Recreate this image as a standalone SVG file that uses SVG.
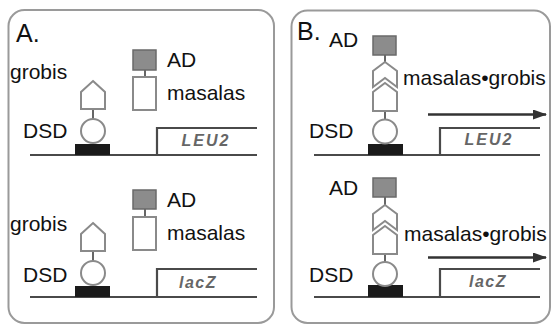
<svg xmlns="http://www.w3.org/2000/svg" width="552" height="327" viewBox="0 0 552 327">
<defs>
<style>
.panel{fill:#fff;stroke:#9a9a9a;stroke-width:2}
.lbl{font-family:"Liberation Sans",Arial,sans-serif;font-size:21px;fill:#111}
.big{font-family:"Liberation Sans",Arial,sans-serif;font-size:25px;fill:#111}
.gene{font-family:"Liberation Sans",Arial,sans-serif;font-size:16px;font-weight:bold;font-style:italic;fill:#666;text-anchor:middle}
.dna{fill:none;stroke:#4a4a4a;stroke-width:2.2}
.prot{fill:#fff;stroke:#8a8a8a;stroke-width:2}
.ad{fill:#8c8c8c;stroke:#6a6a6a;stroke-width:1.5}
.link{stroke:#666;stroke-width:2}
.dsdbox{fill:#1a1a1a}
.arr{stroke:#333;stroke-width:2.5}
</style>
<marker id="ah" markerWidth="14" markerHeight="10" refX="13" refY="5" orient="auto" markerUnits="userSpaceOnUse">
<path d="M0,0 L14,5 L0,10 Z" fill="#333"/>
</marker>
</defs>
<rect width="552" height="327" fill="#fff"/>

<g id="panelA">
<rect class="panel" x="8.5" y="10" width="265.5" height="313" rx="16"/>
<text class="big" x="16" y="42">A.</text>
</g>
<g id="panelB">
<rect class="panel" x="291.5" y="10.5" width="258.5" height="312.5" rx="16"/>
<text class="big" x="297" y="40">B.</text>
</g>

<g id="connectors">
<line class="link" x1="93" y1="109" x2="93" y2="119"/>
<line class="link" x1="145" y1="70" x2="145" y2="77"/>
<line class="link" x1="93" y1="251" x2="93" y2="261"/>
<line class="link" x1="145" y1="209" x2="145" y2="217"/>
<line class="link" x1="385" y1="55" x2="385" y2="62"/>
<line class="link" x1="385" y1="111" x2="385" y2="119"/>
<line class="link" x1="385" y1="197" x2="385" y2="205"/>
<line class="link" x1="385" y1="254" x2="385" y2="262"/>
<line class="arr" x1="428" y1="114.5" x2="546" y2="114.5" marker-end="url(#ah)"/>
<line class="arr" x1="428" y1="257.5" x2="546" y2="257.5" marker-end="url(#ah)"/>
</g>

<g id="A-top-dna">
<line class="dna" x1="30" y1="155" x2="257" y2="155"/>
<path class="dna" d="M157,155 V128 H257"/>
<text class="gene" x="206" y="146" letter-spacing="2">LEU2</text>
</g>
<g id="A-top-dsd">
<rect class="dsdbox" x="75" y="144" width="35" height="11"/>
<circle class="prot" cx="93" cy="131" r="12"/>
<text class="lbl" x="23" y="138">DSD</text>
</g>
<g id="A-top-grobis">
<path class="prot" d="M93,81 L105,92 V109 H81 V92 Z"/>
<text class="lbl" x="10" y="79">grobis</text>
</g>
<g id="A-top-masalas">
<rect class="ad" x="133" y="50" width="23" height="20"/>
<rect class="prot" x="133" y="77" width="23" height="33"/>
<text class="lbl" x="167" y="67">AD</text>
<text class="lbl" x="167" y="100">masalas</text>
</g>

<g id="A-bot-dna">
<line class="dna" x1="30" y1="297" x2="257" y2="297"/>
<path class="dna" d="M157,297 V269 H257"/>
<text class="gene" x="198" y="288" letter-spacing="1.5">lacZ</text>
</g>
<g id="A-bot-dsd">
<rect class="dsdbox" x="75" y="286" width="35" height="11"/>
<circle class="prot" cx="93" cy="273" r="12"/>
<text class="lbl" x="23" y="282">DSD</text>
</g>
<g id="A-bot-grobis">
<path class="prot" d="M93,223 L105,234 V251 H81 V234 Z"/>
<text class="lbl" x="10" y="231">grobis</text>
</g>
<g id="A-bot-masalas">
<rect class="ad" x="133" y="190" width="23" height="19"/>
<rect class="prot" x="133" y="217" width="23" height="33"/>
<text class="lbl" x="167" y="207">AD</text>
<text class="lbl" x="167" y="240">masalas</text>
</g>

<g id="B-top-dna">
<line class="dna" x1="314" y1="155" x2="540" y2="155"/>
<path class="dna" d="M440,155 V128 H540"/>
<text class="gene" x="489" y="145" letter-spacing="2">LEU2</text>
</g>
<g id="B-top-dsd">
<rect class="dsdbox" x="368" y="144" width="35" height="11"/>
<circle class="prot" cx="385" cy="131.5" r="12"/>
<text class="lbl" x="309" y="138">DSD</text>
</g>
<g id="B-top-complex">
<rect class="ad" x="373" y="36" width="23" height="19"/>
<path class="prot" d="M385,62 L397,71 V87 L385,78 L373,87 V71 Z"/>
<path class="prot" d="M385,83 L397,92 V111 H373 V92 Z"/>
<text class="lbl" x="329" y="47">AD</text>
<text class="lbl" x="403" y="85">masalas•grobis</text>
</g>

<g id="B-bot-dna">
<line class="dna" x1="314" y1="297" x2="540" y2="297"/>
<path class="dna" d="M440,297 V269 H540"/>
<text class="gene" x="488" y="287" letter-spacing="1.5">lacZ</text>
</g>
<g id="B-bot-dsd">
<rect class="dsdbox" x="368" y="285" width="35" height="12"/>
<circle class="prot" cx="385" cy="274" r="12"/>
<text class="lbl" x="309" y="282">DSD</text>
</g>
<g id="B-bot-complex">
<rect class="ad" x="373" y="178" width="23" height="19"/>
<path class="prot" d="M385,205 L397,214 V230 L385,221 L373,230 V214 Z"/>
<path class="prot" d="M385,226 L397,235 V254 H373 V235 Z"/>
<text class="lbl" x="329" y="195">AD</text>
<text class="lbl" x="404" y="241">masalas•grobis</text>
</g>
</svg>
